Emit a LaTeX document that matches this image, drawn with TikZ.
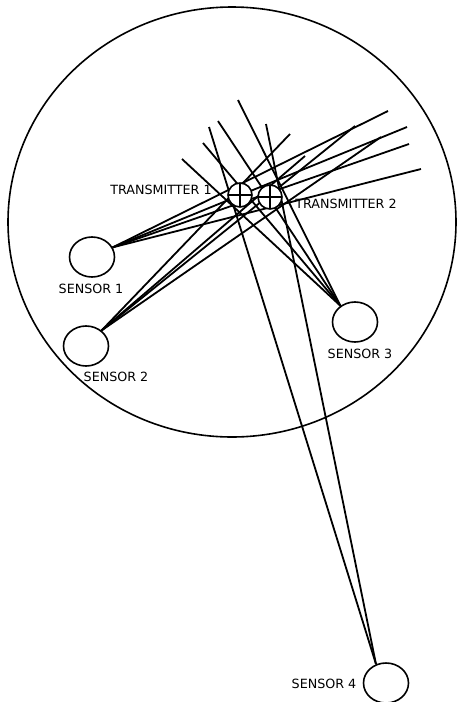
\documentclass[tikz,border=0pt]{standalone}
\usepackage{fontspec}
\setmainfont{DejaVu Sans}
\usetikzlibrary{shapes.geometric}
\tikzset{
  zone/.style={draw,line width=1.6pt},
  sensor/.style={draw,ellipse,fill=white,line width=1.6pt,inner sep=0pt,
    minimum width=45pt,minimum height=40pt},
  tx/.style={draw,circle,fill=white,line width=1.6pt,inner sep=0pt,minimum size=24pt,
    path picture={\draw[line width=1.6pt]
      (path picture bounding box.north) -- (path picture bounding box.south)
      (path picture bounding box.west) -- (path picture bounding box.east);}},
  lbl/.style={font=\fontsize{12.7}{15}\selectfont,inner sep=0pt},
  ray/.style={draw,line width=1.8pt}
}
\begin{document}
\begin{tikzpicture}[x=1pt,y=-1pt]
  \useasboundingbox (0,0) rectangle (456,702);
  % area covered by the transmitters
  \draw[zone] (232,222) ellipse [x radius=224,y radius=215];
  % sensors
  \node[sensor] (s1) at (92,257) {};
  \node[sensor] (s2) at (86,346) {};
  \node[sensor] (s3) at (355,322) {};
  \node[sensor] (s4) at (386,683) {};
  \node[lbl] (l1) at (91,289) {SENSOR 1};
  \node[lbl] (l2) at (116,377) {SENSOR 2};
  \node[lbl] (l3) at (360,354) {SENSOR 3};
  \node[lbl] (l4) at (324,684) {SENSOR 4};
  % free ends of the bearing lines
  \foreach \n/\x/\y in {a1/388/111,a2/407/127,a3/409/144,a4/421/169,
      b1/290/134,b2/305/156,b3/355/126,b4/381/137,
      c1/182/159,c2/203/143,c3/218/121,c4/238/100,
      d1/209/127,d2/266/124}
    \coordinate (\n) at (\x,\y);
  \foreach \e in {a1,a2,a3,a4} \draw[ray] (s1.25) -- (\e);
  \foreach \e in {b1,b2,b3,b4} \draw[ray] (s2.45) -- (\e);
  \foreach \e in {c1,c2,c3,c4} \draw[ray] (s3.132) -- (\e);
  \foreach \e in {d1,d2} \draw[ray] (s4.118) -- (\e);
  % transmitters
  \node[tx] (t1) at (240,195) {};
  \node[tx] (t2) at (270,197) {};
  \node[lbl] (tl1) at (161,190) {TRANSMITTER 1};
  \node[lbl] (tl2) at (346,204) {TRANSMITTER 2};
\end{tikzpicture}
\end{document}
